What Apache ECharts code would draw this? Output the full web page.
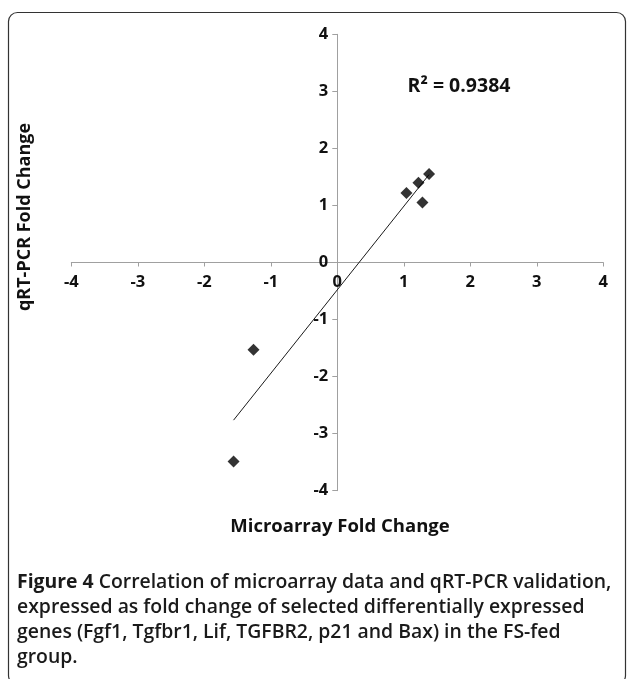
<!DOCTYPE html>
<html>
<head>
<meta charset="utf-8">
<script src="https://cdn.jsdelivr.net/npm/echarts@6/dist/echarts.min.js"></script>
<style>
html,body{margin:0;padding:0;background:#fff;}
#c{width:629px;height:679px;}
</style>
</head>
<body>
<div id="c"></div>
<script>
// Data
const genes = ['Fgf1', 'Tgfbr1', 'Lif', 'TGFBR2', 'p21', 'Bax'];
const microarrayFC = [1.04, 1.22, 1.38, 1.28, -1.26, -1.56];
const qrtpcrFC = [1.22, 1.40, 1.55, 1.05, -1.53, -3.49];
const axisMin = -4, axisMax = 4, axisStep = 1;
const r2Text = 'R\u00B2 = 0.9384';
const xTitle = 'Microarray Fold Change';
const yTitle = 'qRT-PCR Fold Change';
const captionLines = [
  ['Figure 4', ' Correlation of microarray data and qRT-PCR validation,'],
  ['', 'expressed as fold change of selected differentially expressed'],
  ['', 'genes (Fgf1, Tgfbr1, Lif, TGFBR2, p21 and Bax) in the FS-fed'],
  ['', 'group.']
];

// linear trend line (least squares) computed from the data
const n = microarrayFC.length;
const mx = microarrayFC.reduce((a, b) => a + b, 0) / n;
const my = qrtpcrFC.reduce((a, b) => a + b, 0) / n;
let sxy = 0, sxx = 0;
for (let i = 0; i < n; i++) { sxy += (microarrayFC[i] - mx) * (qrtpcrFC[i] - my); sxx += (microarrayFC[i] - mx) ** 2; }
const slope = sxy / sxx, intercept = my - slope * mx;
const xLo = Math.min(...microarrayFC), xHi = Math.max(...microarrayFC);
const trend = [[xLo, intercept + slope * xLo], [xHi, intercept + slope * xHi]];

const points = microarrayFC.map((x, i) => [x, qrtpcrFC[i], genes[i]]);

const W = 629, H = 679;
const grid = {left: 71.3, right: 25.7, top: 34.3, bottom: 188.3};
const gridW = W - grid.left - grid.right, gridH = H - grid.top - grid.bottom;
// axes cross at zero (the middle of the symmetric range)
const xOffset = -gridH * (0 - axisMin) / (axisMax - axisMin);
const yOffset = -gridW * (0 - axisMin) / (axisMax - axisMin);

const chart = echarts.init(document.getElementById('c'), null, {renderer: 'canvas'});
const axisCol = '#a0a0a0';
const tickFont = {fontFamily: 'Open Sans', fontWeight: 'bold', fontSize: 16.5, color: '#111'};

const captionGraphics = captionLines.map((ln, i) => ({
  type: 'text', x: 17, y: 582 + i * 25,
  style: {
    text: (ln[0] ? '{b|' + ln[0] + '}' : '') + '{r|' + ln[1] + '}',
    verticalAlign: 'middle',
    rich: {
      b: {fontFamily: 'Open Sans', fontWeight: 'bold', fontSize: 19.4, fill: '#1a1a1a'},
      r: {fontFamily: 'Open Sans', fontWeight: 600, fontSize: 19.4, fill: '#1a1a1a'}
    }
  }
}));

chart.setOption({
  animation: false,
  backgroundColor: '#fff',
  grid: grid,
  xAxis: {
    type: 'value', min: axisMin, max: axisMax, interval: axisStep,
    position: 'bottom', offset: xOffset,
    axisLine: {onZero: false, lineStyle: {color: axisCol, width: 1}},
    axisTick: {show: true, length: 4, lineStyle: {color: axisCol}},
    splitLine: {show: false},
    axisLabel: Object.assign({margin: 11}, tickFont)
  },
  yAxis: {
    type: 'value', min: axisMin, max: axisMax, interval: axisStep,
    position: 'left', offset: yOffset,
    axisLine: {onZero: false, lineStyle: {color: axisCol, width: 1}},
    axisTick: {show: true, length: 5, lineStyle: {color: axisCol}},
    splitLine: {show: false},
    axisLabel: Object.assign({margin: 9}, tickFont)
  },
  series: [
    {
      type: 'line', data: trend, symbol: 'none', silent: true,
      lineStyle: {color: '#1a1a1a', width: 1}, z: 2
    },
    {
      type: 'scatter', data: points, symbol: 'diamond', symbolSize: 12,
      itemStyle: {color: '#000'}, z: 3
    }
  ],
  graphic: [
    {type: 'rect', shape: {x: 8.5, y: 12.5, width: 617, height: 672, r: 9},
     style: {fill: 'none', stroke: '#333', lineWidth: 1.2}, silent: true, z: -1},
    {type: 'text', x: 459, y: 86,
     style: {text: r2Text, fontFamily: 'Open Sans', fontWeight: 'bold', fontSize: 19.5, fill: '#111', align: 'center', verticalAlign: 'middle'}},
    {type: 'text', x: 340, y: 527,
     style: {text: xTitle, fontFamily: 'Open Sans', fontWeight: 'bold', fontSize: 18.5, fill: '#111', align: 'center', verticalAlign: 'middle'}},
    {type: 'text', x: 25, y: 217, rotation: Math.PI / 2,
     style: {text: yTitle, fontFamily: 'Open Sans', fontWeight: 'bold', fontSize: 18, fill: '#111', align: 'center', verticalAlign: 'middle'}}
  ].concat(captionGraphics)
});
</script>
</body>
</html>
